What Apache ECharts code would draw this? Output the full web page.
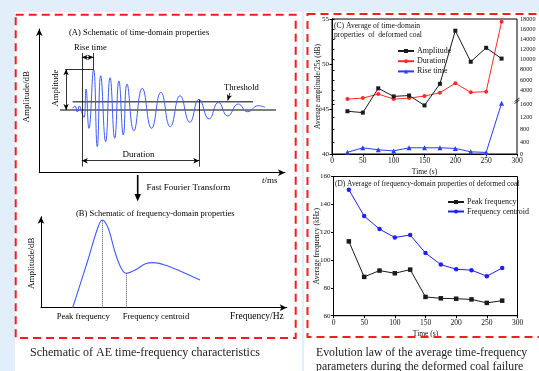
<!DOCTYPE html>
<html>
<head>
<meta charset="utf-8">
<script src="https://cdn.jsdelivr.net/npm/echarts@6/dist/echarts.min.js"></script>
<style>
  html, body { margin: 0; padding: 0; background: #e2eef9; width: 539px; height: 371px; overflow: hidden; }
  .panel { position: absolute; background: #ffffff; }
  #panelL { left: 15px; top: 12px; width: 287px; height: 359px; }
  #panelR { left: 304px; top: 12px; width: 235px; height: 359px; }
  #chart { position: absolute; left: 0; top: 0; width: 539px; height: 371px; }
</style>
</head>
<body>
<div id="panelL" class="panel"></div>
<div id="panelR" class="panel"></div>
<div id="chart"></div>
<script>
// ---- measured averages per 25 s window ----
const timeSec = [25, 50, 75, 100, 125, 150, 175, 200, 225, 250, 275];
const amplitudeDb = [44.75, 44.6, 47.3, 46.4, 46.5, 45.4, 47.8, 53.7, 50.25, 51.8, 50.6];
const durationUs = [2200, 2400, 3200, 2200, 2400, 2800, 3470, 5330, 3530, 3670, 17530];
const riseTimeUs = [65, 210, 145, 110, 210, 210, 210, 190, 80, 60, 1650];
const peakFreqKHz = [113.4, 87.9, 92.4, 90.5, 93.1, 73.5, 72.5, 72.2, 71.7, 69.2, 70.8];
const centroidFreqKHz = [150.5, 131.6, 122.2, 116.2, 118, 105, 96.7, 93.4, 92.7, 88.4, 94.3];

// ---- tick labels ----
const timeTicks = [0, 50, 100, 150, 200, 250, 300];
const amplitudeTicks = [40, 45, 50, 55];
const durationTicks = [4000, 6000, 8000, 10000, 12000, 14000, 16000, 18000];
const riseTicks = [0, 400, 800, 1200, 1600];
const freqTicks = [60, 80, 100, 120, 140, 160];

// ---- sketch of an AE hit (time in ms, relative amplitude) ----
const waveTimeMs = [13.6, 14.5, 15.5, 16.3, 17.3, 18.2, 19.0, 20.2, 22.1, 23.6, 25.0, 27.0, 28.8, 30.7, 32.4, 34.2, 35.7, 38.5, 41.9, 45.7, 49.5, 53.3, 57.3, 61.3, 65.0, 69.1, 72.9, 76.7, 81.0, 84.8, 89.1, 91.9];
const waveAmp = [4.2, 9.8, -4.9, 9.8, -6.6, -18, 51.6, -45, 100, -90, 84.3, -77.9, 79.4, -69.5, 71.3, -61.4, 63.9, -50.9, 53.3, -45, 43.5, -41, 35.1, -30.2, 26.3, -22.1, 18.9, -14.7, 14.7, -4.2, 10.6, 6.6];
const baselineTime = [8.4, 96.3];
const thresholdTime = [13.6, 87.0];
const thresholdLevel = 20.4;
const riseStart = 17.3, risePeak = 22.1, durationEnd = 65.1;

// ---- sketch of the spectrum (relative frequency, relative amplitude) ----
const specFreq = [12.9, 19.1, 22.8, 24.9, 27.3, 30.1, 32.6, 34.6, 38.3, 42.3, 45.7, 50.4, 56.6, 64.7];
const specAmp = [0, 52.4, 85.4, 96.4, 87.6, 61.2, 43.6, 37.8, 41.4, 48, 49.5, 46.9, 40.3, 30.4];
const peakFreqPos = 24.9, peakFreqAmp = 96.4;
const centroidPos = 34.6, centroidAmp = 37.8;

const SERIF = 'Liberation Serif';
const INK = '#111';

function zip(a, b) { return a.map((v, i) => [v, b[i]]); }
function labelsOnly(list) {
  return v => (list.indexOf(v) >= 0 ? String(v) : '');
}
function plotAxisX(grid, nameGap) {
  return {
    type: 'value', gridIndex: grid, min: 0, max: 300, interval: 50,
    name: 'Time (s)', nameLocation: 'middle', nameGap: nameGap,
    nameTextStyle: { fontFamily: SERIF, fontSize: 7.5, color: INK },
    axisLine: { show: true, onZero: false, lineStyle: { color: '#000', width: 1 } },
    axisTick: { show: true, inside: false, length: 2.5, lineStyle: { color: '#000' } },
    axisLabel: { margin: 3, fontFamily: SERIF, fontSize: 7.5, color: INK, formatter: labelsOnly(timeTicks) },
    splitLine: { show: false }
  };
}
function hiddenX(grid, min, max) {
  return { type: 'value', gridIndex: grid, min: min, max: max, show: false, splitLine: { show: false } };
}
function sketchAxis(grid, min, max) {
  return {
    type: 'value', gridIndex: grid, min: min, max: max,
    axisLine: { show: true, onZero: false, symbol: ['none', 'arrow'], symbolSize: [5, 7], lineStyle: { color: '#000', width: 1 } },
    axisTick: { show: false }, axisLabel: { show: false }, splitLine: { show: false }
  };
}
function seg(x1, y1, x2, y2, arrows) {
  return [
    { coord: [x1, y1], symbol: arrows === 'both' ? 'arrow' : 'none' },
    { coord: [x2, y2], symbol: arrows ? 'arrow' : 'none' }
  ];
}

const chart = echarts.init(document.getElementById('chart'), null, { renderer: 'canvas' });

const sketchFont = '8.6px "Liberation Serif"';

const option = {
  animation: false,
  backgroundColor: 'transparent',
  textStyle: { fontFamily: SERIF },
  grid: [
    { left: 332, top: 19, width: 185, height: 135, show: true, borderColor: '#000', borderWidth: 1, backgroundColor: 'transparent' },
    { left: 332, top: 19.3, width: 185, height: 80.8 },
    { left: 332, top: 100.1, width: 185, height: 54.2 },
    { left: 333.5, top: 176.5, width: 184, height: 139.2, show: true, borderColor: '#000', borderWidth: 1, backgroundColor: 'transparent' },
    { left: 39.3, top: 29, width: 245.7, height: 143.7 },
    { left: 41, top: 216.7, width: 245.7, height: 91 }
  ],
  xAxis: [
    plotAxisX(0, 14.5),
    hiddenX(1, 0, 300),
    hiddenX(2, 0, 300),
    plotAxisX(3, 14),
    sketchAxis(4, 0, 100),
    sketchAxis(5, 0, 100)
  ],
  yAxis: [
    {
      type: 'value', gridIndex: 0, min: 40, max: 55, interval: 5, position: 'left',
      name: 'Average amplitude/25s (dB)', nameLocation: 'middle', nameGap: 9.5, nameMoveOverlap: false,
      nameTextStyle: { fontFamily: SERIF, fontSize: 7.5, color: INK },
      axisLine: { show: true, lineStyle: { color: '#000' } },
      axisTick: { show: true, length: 2.5, lineStyle: { color: '#000' } },
      axisLabel: { margin: 3, fontFamily: SERIF, fontSize: 7, color: INK, formatter: labelsOnly(amplitudeTicks) },
      splitLine: { show: false }
    },
    {
      type: 'value', gridIndex: 1, min: 2000, max: 18000, interval: 2000, position: 'right',
      axisLine: { show: true, lineStyle: { color: '#000' } },
      axisTick: { show: true, length: 2.5, lineStyle: { color: '#000' } },
      axisLabel: { margin: 3, fontFamily: SERIF, fontSize: 6.2, color: INK, formatter: labelsOnly(durationTicks) },
      splitLine: { show: false }
    },
    {
      type: 'value', gridIndex: 2, min: 0, max: 1750, interval: 400, position: 'right',
      axisLine: { show: true, lineStyle: { color: '#000' } },
      axisTick: { show: true, length: 2.5, lineStyle: { color: '#000' } },
      axisLabel: { margin: 3, fontFamily: SERIF, fontSize: 6.2, color: INK, formatter: labelsOnly(riseTicks), showMaxLabel: false },
      splitLine: { show: false }
    },
    {
      type: 'value', gridIndex: 3, min: 60, max: 160, interval: 20, position: 'left',
      name: 'Average frequency (kHz)', nameLocation: 'middle', nameGap: 12.5, nameMoveOverlap: false,
      nameTextStyle: { fontFamily: SERIF, fontSize: 7.5, color: INK },
      axisLine: { show: true, lineStyle: { color: '#000' } },
      axisTick: { show: true, length: 2.5, lineStyle: { color: '#000' } },
      axisLabel: { margin: 3, fontFamily: SERIF, fontSize: 7, color: INK, formatter: labelsOnly(freqTicks) },
      splitLine: { show: false }
    },
    sketchAxis(4, -154, 199),
    sketchAxis(5, 0, 100)
  ],
  legend: [
    {
      data: ['Amplitude', 'Duration', 'Rise time'], orient: 'vertical',
      left: 392, top: 42, itemWidth: 16, itemHeight: 5, itemGap: 2.2,
      textStyle: { fontFamily: SERIF, fontSize: 8, color: INK, padding: [0, 0, 0, -2] },
      selectedMode: false
    },
    {
      data: ['Peak frequency', 'Frequency centroid'], orient: 'vertical',
      left: 442, top: 193, itemWidth: 16, itemHeight: 5, itemGap: 1.5,
      textStyle: { fontFamily: SERIF, fontSize: 8, color: INK, padding: [0, 0, 0, -2] },
      selectedMode: false
    }
  ],
  series: [
    {
      name: 'Amplitude', type: 'line', xAxisIndex: 0, yAxisIndex: 0,
      data: zip(timeSec, amplitudeDb), symbol: 'rect', symbolSize: 4,
      itemStyle: { color: '#1a1a1a' }, lineStyle: { color: '#1a1a1a', width: 1 }, z: 5
    },
    {
      name: 'Duration', type: 'line', xAxisIndex: 1, yAxisIndex: 1,
      data: zip(timeSec, durationUs), symbol: 'circle', symbolSize: 4,
      itemStyle: { color: '#ff2a2a' }, lineStyle: { color: '#ff2a2a', width: 1 }, z: 4
    },
    {
      name: 'Rise time', type: 'line', xAxisIndex: 2, yAxisIndex: 2,
      data: zip(timeSec, riseTimeUs), symbol: 'triangle', symbolSize: 5,
      itemStyle: { color: '#2a3cff' }, lineStyle: { color: '#2a3cff', width: 1 }, z: 4
    },
    {
      name: 'Peak frequency', type: 'line', xAxisIndex: 3, yAxisIndex: 3,
      data: zip(timeSec, peakFreqKHz), symbol: 'rect', symbolSize: 4.5,
      itemStyle: { color: '#1a1a1a' }, lineStyle: { color: '#1a1a1a', width: 1 }
    },
    {
      name: 'Frequency centroid', type: 'line', xAxisIndex: 3, yAxisIndex: 3,
      data: zip(timeSec, centroidFreqKHz), symbol: 'circle', symbolSize: 4.5,
      itemStyle: { color: '#1f1fff' }, lineStyle: { color: '#1f1fff', width: 1 }
    },
    // time-domain sketch
    {
      type: 'line', xAxisIndex: 4, yAxisIndex: 4, silent: true,
      data: zip(baselineTime, [0, 0]), symbol: 'none',
      lineStyle: { color: '#000', width: 1 }
    },
    {
      type: 'line', xAxisIndex: 4, yAxisIndex: 4, silent: true,
      data: zip(thresholdTime, [thresholdLevel, thresholdLevel]), symbol: 'none',
      lineStyle: { color: '#555', width: 1.4 }
    },
    {
      type: 'line', xAxisIndex: 4, yAxisIndex: 4, silent: true,
      data: zip(waveTimeMs, waveAmp), symbol: 'none', smooth: 0.5,
      lineStyle: { color: '#3d5cff', width: 1 }, z: 3,
      markLine: {
        silent: true, symbolSize: [4, 6], label: { show: false },
        lineStyle: { color: '#000', width: 0.8, type: 'solid' },
        emphasis: { disabled: true },
        data: [
          seg(10.5, 100, risePeak, 100),
          seg(10.9, 0, 10.9, 100, 'both'),
          seg(riseStart, 140, riseStart, -139),
          seg(risePeak, 140, risePeak, 100),
          seg(riseStart, 129.5, risePeak, 129.5, 'both'),
          seg(durationEnd, 24.6, durationEnd, -139),
          seg(riseStart, -124.6, durationEnd, -124.6, 'both'),
          seg(77.6, 41.8, 76.7, 23.2, 'end')
        ]
      }
    },
    // spectrum sketch
    {
      type: 'line', xAxisIndex: 5, yAxisIndex: 5, silent: true,
      data: zip(specFreq, specAmp), symbol: 'none', smooth: 0.35,
      lineStyle: { color: '#3d5cff', width: 1.1 },
      markLine: {
        silent: true, symbol: ['none', 'none'], label: { show: false },
        lineStyle: { color: '#222', width: 0.8, type: [1, 1] },
        emphasis: { disabled: true },
        data: [
          seg(peakFreqPos, 0, peakFreqPos, peakFreqAmp),
          seg(centroidPos, 0, centroidPos, centroidAmp)
        ]
      }
    }
  ],
  graphic: [
    // dashed frames
    { type: 'rect', z: 100, silent: true, shape: { x: 15.7, y: 14.7, width: 280, height: 323.3 },
      style: { fill: null, stroke: '#f01e1e', lineWidth: 2, lineDash: [8, 5] } },
    { type: 'rect', z: 100, silent: true, shape: { x: 307.5, y: 14, width: 250, height: 323 },
      style: { fill: null, stroke: '#f01e1e', lineWidth: 2, lineDash: [8, 5] } },
    // FFT arrow
    { type: 'line', silent: true, shape: { x1: 137.7, y1: 175, x2: 137.7, y2: 195 }, style: { stroke: '#000', lineWidth: 1.6 } },
    { type: 'polygon', silent: true, shape: { points: [[134.5, 194], [140.9, 194], [137.7, 201.5]] }, style: { fill: '#000' } },
    // axis-break mark on the right axis
    { type: 'line', silent: true, shape: { x1: 514.5, y1: 101.5, x2: 519.5, y2: 98 }, style: { stroke: '#000', lineWidth: 0.8 } },
    { type: 'line', silent: true, shape: { x1: 514.5, y1: 103.5, x2: 519.5, y2: 100 }, style: { stroke: '#000', lineWidth: 0.8 } },
    // sketch texts
    { type: 'text', silent: true, x: 69, y: 33, style: { text: '(A) Schematic of time-domain properties', font: '8.5px "Liberation Serif"', fill: '#000', verticalAlign: 'middle' } },
    { type: 'text', silent: true, x: 74, y: 47.3, style: { text: 'Rise time', font: sketchFont, fill: '#000', verticalAlign: 'middle' } },
    { type: 'text', silent: true, x: 224, y: 87.7, style: { text: 'Threshold', font: sketchFont, fill: '#000', verticalAlign: 'middle' } },
    { type: 'text', silent: true, x: 138.5, y: 155, style: { text: 'Duration', font: '9px "Liberation Serif"', fill: '#000', align: 'center', verticalAlign: 'middle' } },
    { type: 'text', silent: true, x: 56, y: 88, rotation: Math.PI / 2, style: { text: 'Amplitude', font: sketchFont, fill: '#000', align: 'center', verticalAlign: 'middle' } },
    { type: 'text', silent: true, x: 26.7, y: 96.7, rotation: Math.PI / 2, style: { text: 'Amplitude/dB', font: '9px "Liberation Serif"', fill: '#000', align: 'center', verticalAlign: 'middle' } },
    { type: 'text', silent: true, x: 262, y: 181, style: { text: '{i|t}/ms', font: '9px "Liberation Serif"', fill: '#000', verticalAlign: 'middle', rich: { i: { fontStyle: 'italic', fontFamily: SERIF, fontSize: 9 } } } },
    { type: 'text', silent: true, x: 146.5, y: 188, style: { text: 'Fast Fourier Transform', font: '9px "Liberation Serif"', fill: '#000', verticalAlign: 'middle' } },
    { type: 'text', silent: true, x: 76, y: 213.3, style: { text: '(B) Schematic of frequency-domain properties', font: '8.5px "Liberation Serif"', fill: '#000', verticalAlign: 'middle' } },
    { type: 'text', silent: true, x: 31.7, y: 263.3, rotation: Math.PI / 2, style: { text: 'Amplitude/dB', font: '9px "Liberation Serif"', fill: '#000', align: 'center', verticalAlign: 'middle' } },
    { type: 'text', silent: true, x: 56.7, y: 316.7, style: { text: 'Peak frequency', font: sketchFont, fill: '#000', verticalAlign: 'middle' } },
    { type: 'text', silent: true, x: 122.7, y: 316.7, style: { text: 'Frequency centroid', font: sketchFont, fill: '#000', verticalAlign: 'middle' } },
    { type: 'text', silent: true, x: 230, y: 316.7, style: { text: 'Frequency/Hz', font: '9.5px "Liberation Serif"', fill: '#000', verticalAlign: 'middle' } },
    // panel titles
    { type: 'text', silent: true, x: 334, y: 26, style: { text: '(C) Average of time-domain', font: '7.6px "Liberation Serif"', fill: '#111', verticalAlign: 'middle' } },
    { type: 'text', silent: true, x: 334, y: 35.3, style: { text: 'properties  of  deformed coal', font: '7.6px "Liberation Serif"', fill: '#111', verticalAlign: 'middle' } },
    { type: 'text', silent: true, x: 335, y: 184, style: { text: '(D) Average of frequency-domain properties of deformed coal', font: '7.4px "Liberation Serif"', fill: '#111', verticalAlign: 'middle' } },
    // captions
    { type: 'text', silent: true, x: 30, y: 352.7, style: { text: 'Schematic of AE time-frequency characteristics', font: '12px "Liberation Serif"', fill: '#222', verticalAlign: 'middle' } },
    { type: 'text', silent: true, x: 316, y: 353, style: { text: 'Evolution law of the average time-frequency', font: '11.8px "Liberation Serif"', fill: '#222', verticalAlign: 'middle' } },
    { type: 'text', silent: true, x: 316, y: 366.5, style: { text: 'parameters during the deformed coal failure', font: '11.8px "Liberation Serif"', fill: '#222', verticalAlign: 'middle' } }
  ]
};

chart.setOption(option);
</script>
</body>
</html>
